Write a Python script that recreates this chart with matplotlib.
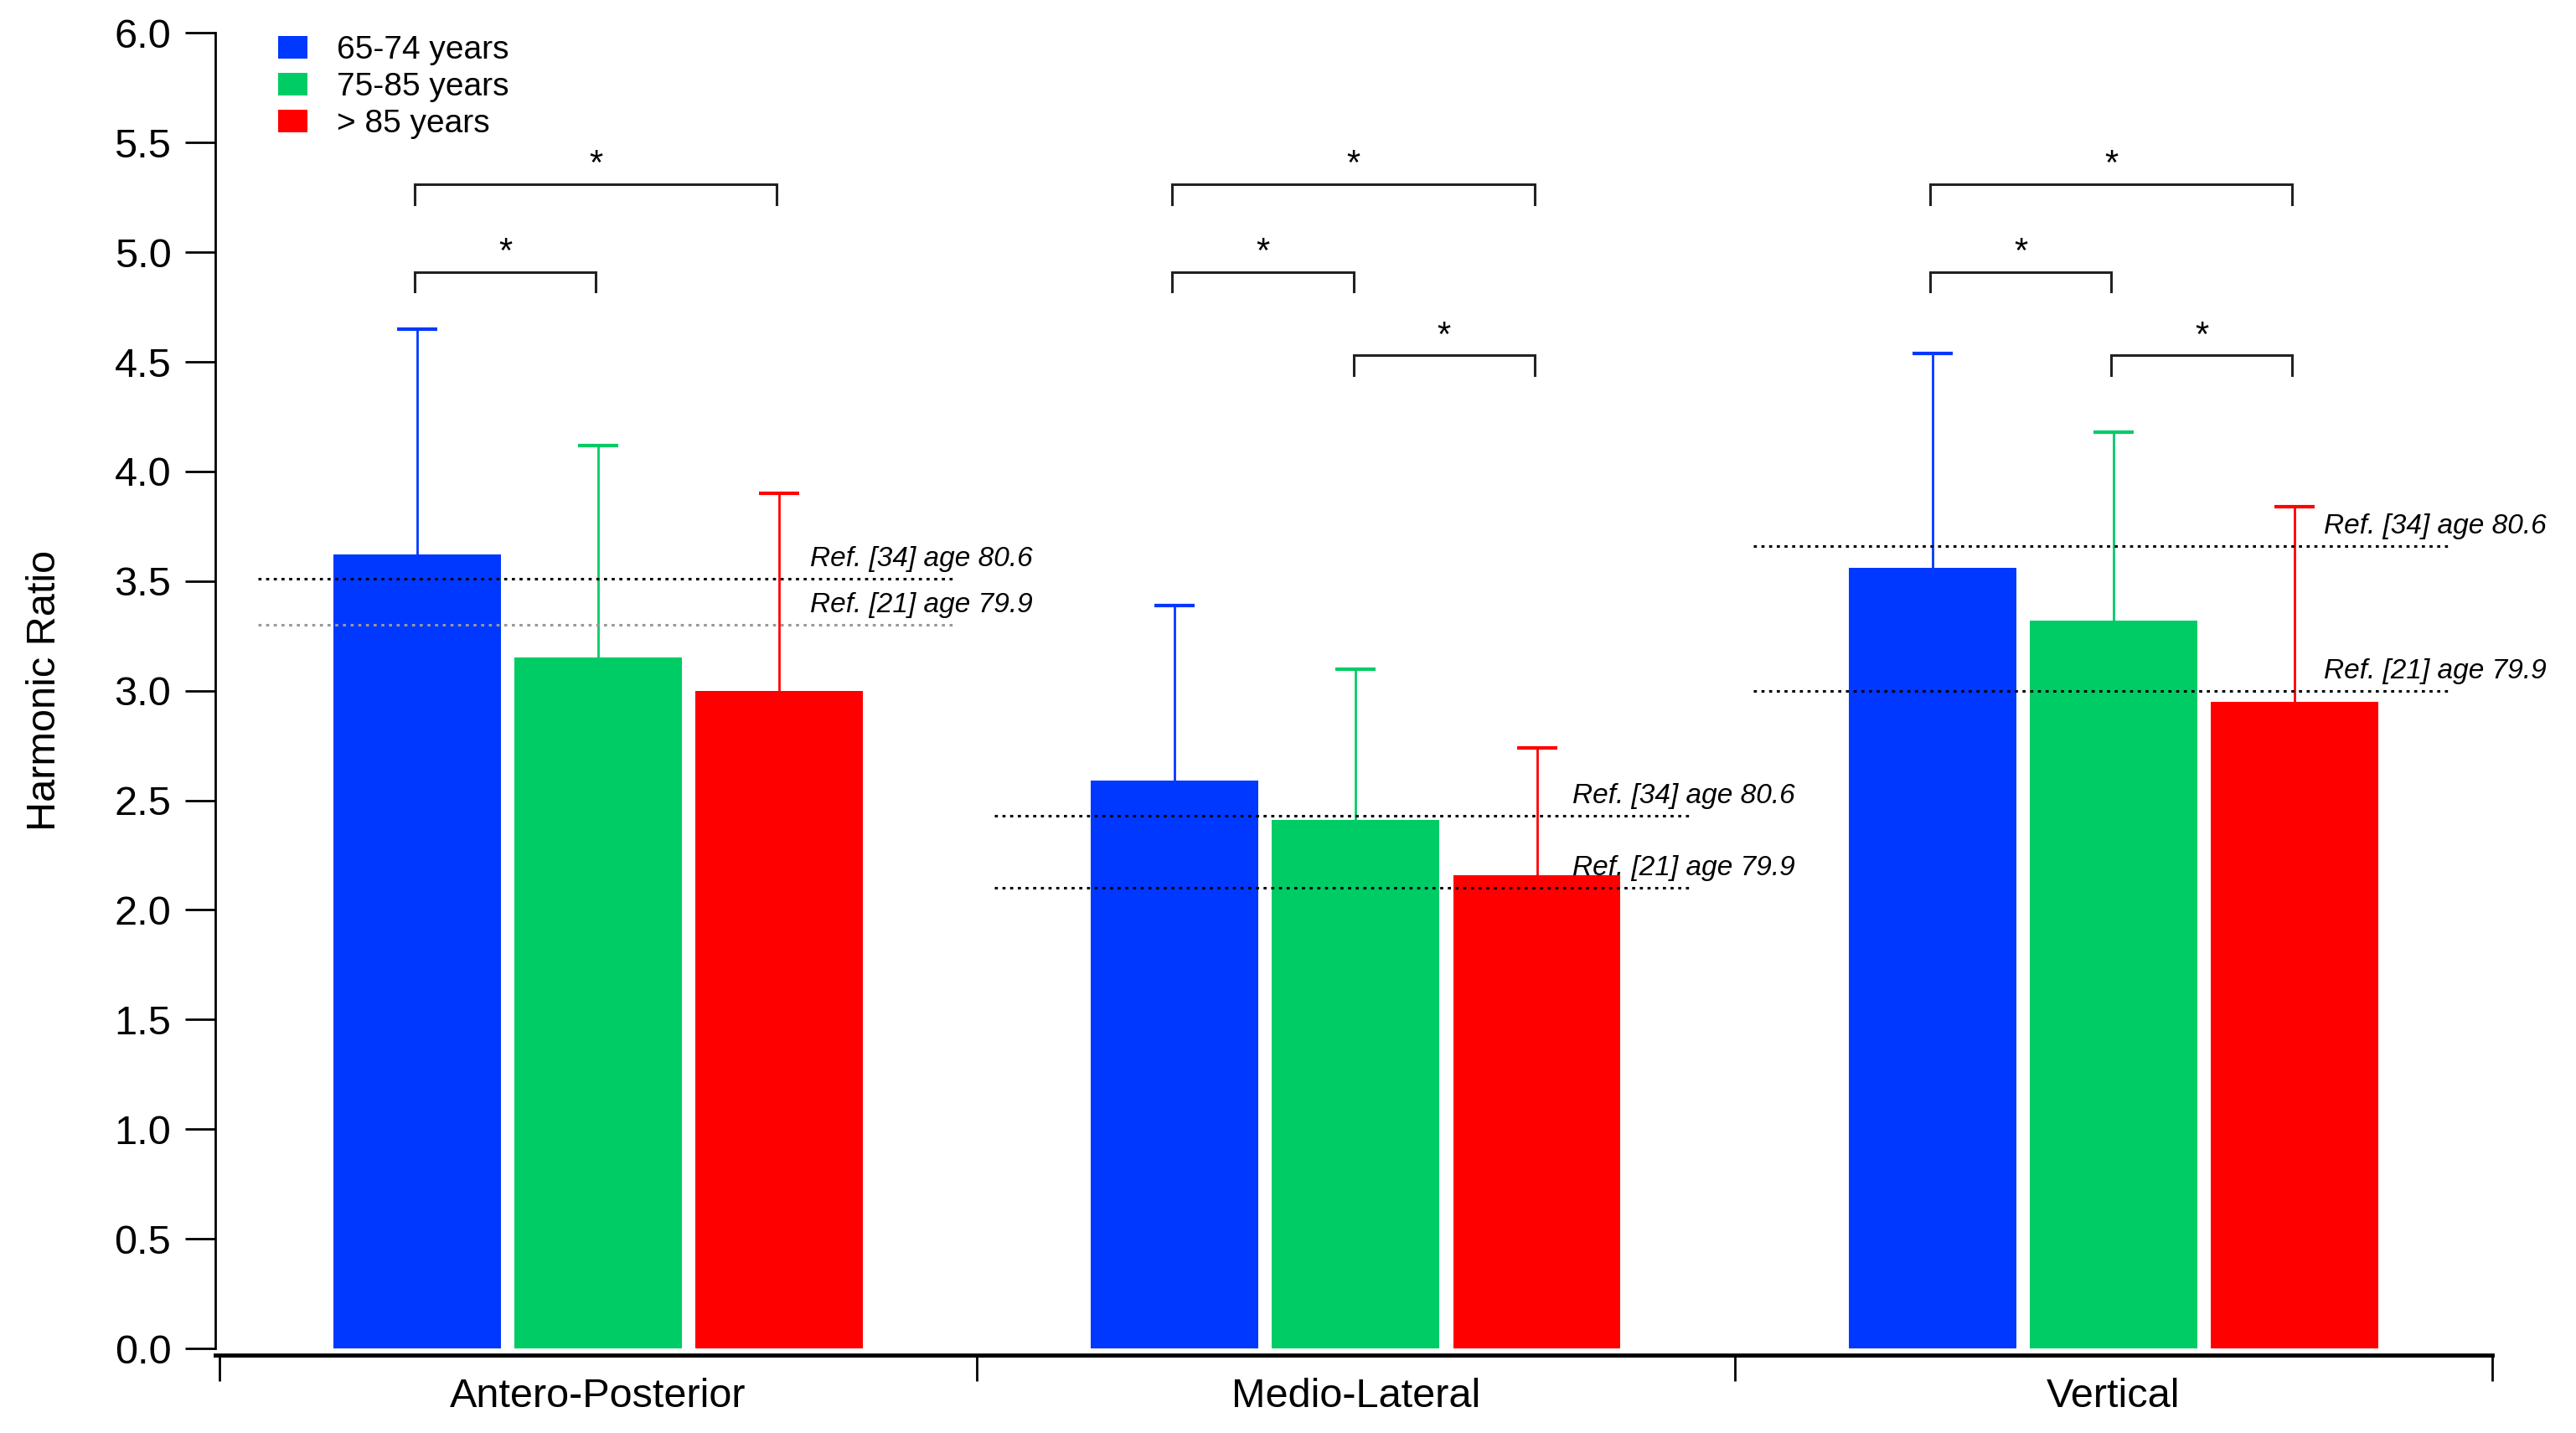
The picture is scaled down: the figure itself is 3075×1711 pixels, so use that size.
import matplotlib
matplotlib.use("Agg")
import matplotlib.pyplot as plt
import numpy as np
from matplotlib.patches import Patch

plt.rcParams['font.family'] = ['Liberation Sans', 'DejaVu Sans']

categories = ["Antero-Posterior", "Medio-Lateral", "Vertical"]
groups = ["65-74 years", "75-85 years", "> 85 years"]
colors = ["#0038FF", "#00CC66", "#FF0000"]

means = {
    "65-74 years": [3.62, 2.59, 3.56],
    "75-85 years": [3.15, 2.41, 3.32],
    "> 85 years": [3.00, 2.16, 2.95],
}
sds = {
    "65-74 years": [1.03, 0.80, 0.98],
    "75-85 years": [0.97, 0.69, 0.86],
    "> 85 years": [0.90, 0.58, 0.89],
}

# reference values per category
ref34 = [3.51, 2.43, 3.66]
ref21 = [3.30, 2.10, 3.00]
ref34_label = "Ref. [34] age 80.6"
ref21_label = "Ref. [21] age 79.9"

# significance brackets: (category, group_i, group_j, height)
brackets = [
    (0, 0, 2, 5.31), (0, 0, 1, 4.91),
    (1, 0, 2, 5.31), (1, 0, 1, 4.91), (1, 1, 2, 4.53),
    (2, 0, 2, 5.31), (2, 0, 1, 4.91), (2, 1, 2, 4.53),
]

W, H = 3075, 1711
fig = plt.figure(figsize=(W / 100, H / 100), dpi=100)
ax = fig.add_axes([0.0836, 0.059, 0.8839, 0.918])

x = np.arange(len(categories))
bw = 0.221
offs = [-0.239, 0.0, 0.239]

for g, c, o in zip(groups, colors, offs):
    ax.bar(x + o, means[g], width=bw, color=c, zorder=2)
    eb = ax.errorbar(x + o, means[g], yerr=[np.zeros(3), sds[g]], fmt='none',
                     ecolor=c, elinewidth=2, capsize=17, capthick=3, zorder=1)
    caps = eb[1]
    if len(caps) == 2:
        caps[0].set_visible(False)

# reference lines
ref_x0 = [-0.449, 0.523, 1.525]
ref_x1 = [0.469, 1.440, 2.442]
txt_x = [0.280, 1.286, 2.278]
for i in range(3):
    ax.plot([ref_x0[i], ref_x1[i]], [ref34[i]] * 2, linestyle=(0, (1.2, 1.8)),
            color='black', lw=2.2, zorder=3)
    c21 = '#999999' if i == 0 else 'black'
    ax.plot([ref_x0[i], ref_x1[i]], [ref21[i]] * 2, linestyle=(0, (1.2, 1.8)),
            color=c21, lw=2.2, zorder=3)
    ax.text(txt_x[i], ref34[i] + 0.03, ref34_label, style='italic', fontsize=24,
            ha='left', va='bottom', zorder=4)
    ax.text(txt_x[i], ref21[i] + 0.03, ref21_label, style='italic', fontsize=24,
            ha='left', va='bottom', zorder=4)

# brackets
tick = 0.09
for cat, gi, gj, h in brackets:
    xa = cat + offs[gi] - 0.003
    xb = cat + offs[gj] - 0.003
    ax.plot([xa, xa, xb, xb], [h - tick, h, h, h - tick], color='#222222', lw=2.2,
            solid_joinstyle='miter', zorder=3)
    ax.text((xa + xb) / 2, h + 0.01, "*", ha='center', va='bottom', fontsize=30)

ax.set_xlim(-0.505, 2.5)
ax.set_ylim(0, 6)
yt = np.arange(0, 6.01, 0.5)
ax.set_yticks(yt)
ax.set_yticklabels([f"{v:.1f}" for v in yt])
ax.tick_params(axis='y', length=26, width=2, pad=12, labelsize=35)

ax.set_xticks([-0.5, 0.5, 1.5, 2.5])
ax.set_xticklabels([])
ax.tick_params(axis='x', which='major', length=22, width=2)
ax.set_xticks(x, minor=True)
ax.set_xticklabels(categories, minor=True)
ax.tick_params(axis='x', which='minor', length=0, pad=19, labelsize=35)

for s in ['top', 'right']:
    ax.spines[s].set_visible(False)
ax.spines['left'].set_linewidth(2)
ax.spines['bottom'].set_linewidth(3.5)
ax.spines['bottom'].set_position(('outward', 6))

ax.set_ylabel("Harmonic Ratio", fontsize=35)
ax.yaxis.set_label_coords(-0.0665, 0.5)

handles = [Patch(facecolor=c, edgecolor='none') for c in colors]
leg = ax.legend(handles, groups, loc='upper left', bbox_to_anchor=(0.022, 1.008),
                frameon=False, fontsize=28, handlelength=0.9, handleheight=0.7,
                labelspacing=0.2, handletextpad=0.9, borderaxespad=0)

fig.savefig("out.png", dpi=100)
